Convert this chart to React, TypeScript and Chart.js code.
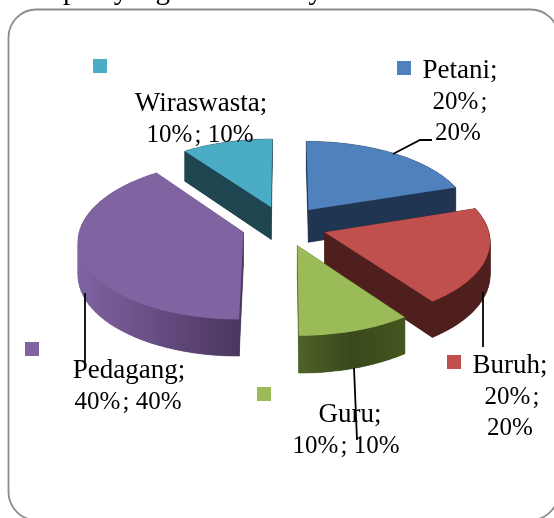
import React, { useEffect, useRef } from "react";
import { Chart, registerables } from "chart.js";

Chart.register(...registerables);

const categories = ["Petani", "Buruh", "Guru", "Pedagang", "Wiraswasta"];
const values = [20, 20, 10, 40, 10];
const topColors = ["#4F81BD", "#C0504D", "#9BBB59", "#8064A2", "#4BACC6"];
const drawOrder = [4, 0, 3, 1, 2];

const wallStops: [number, number, string][][] = [
  [[300, 0, "#1F3552"], [460, 1, "#1F3552"]],
  [[320, 0, "#4F1F1E"], [490, 1, "#4F1F1E"]],
  [[298, 0, "#4F6329"], [350, 0, "#38481C"], [405, 0, "#45561F"]],
  [[80, 0, "#7F62A1"], [243, 0, "#4A355E"]],
  [[185, 0, "#1F4650"], [272, 0, "#1F4650"]],
];

const CX = 284, CY = 226, BX = 163, AY = 77.8, TILT = 0.093, EXPLODE = 0.26, DEPTH = 33;

const FONT = '27px "Liberation Serif"';
const NUM_FONT = '25px "Liberation Serif"';
const LINE_CLIP = 31;

// per-slice label layout: anchor x, first baseline y, wrapped, alignment, marker, leader
const labelLayout = [
  { x: 456, y: 78, wrap: true, marker: [397, 61], leader: [[393, 154], [420, 140], [432, 140]], firstX: 460 },
  { x: 508, y: 373, wrap: true, marker: [447, 355], leader: [[483, 292], [483, 347]], firstX: 510 },
  { x: 346, y: 422, wrap: false, marker: [257, 387], leader: [[354, 368], [357, 440]], firstX: 350 },
  { x: 128, y: 378, wrap: false, marker: [25, 342], leader: [[85, 293], [85, 362]], firstX: 129 },
  { x: 200, y: 111, wrap: false, marker: [93, 59], leader: null, firstX: 201 },
];

function project(X: number, Y: number, depth = 0) {
  const p = 1 / (1 - TILT * Y);
  return { x: CX + BX * X * p, y: CY + AY * Y * p + depth * DEPTH * p };
}

function outline(el: any) {
  const a0 = el.startAngle + Math.PI / 2;
  const a1 = el.endAngle + Math.PI / 2;
  const mid = (a0 + a1) / 2;
  const ox = EXPLODE * Math.sin(mid);
  const oy = -EXPLODE * Math.cos(mid);
  const pts: { X: number; Y: number }[] = [{ X: ox, Y: oy }];
  const steps = 48;
  for (let i = 0; i <= steps; i++) {
    const a = a0 + ((a1 - a0) * i) / steps;
    pts.push({ X: ox + Math.sin(a), Y: oy - Math.cos(a) });
  }
  return pts;
}

const pie3d = {
  id: "pie3d",
  beforeDraw(chart: any) {
    const ctx = chart.ctx;
    ctx.save();
    ctx.fillStyle = "#fff";
    ctx.fillRect(0, 0, chart.width, chart.height);
    ctx.strokeStyle = "#8C8C8C";
    ctx.lineWidth = 1.8;
    ctx.beginPath();
    ctx.roundRect(8.5, 9.5, 550, 510.5, 28);
    ctx.stroke();
    ctx.fillStyle = "#000";
    ctx.font = '29px "Liberation Serif"';
    ctx.textAlign = "left";
    ctx.fillText("pun yang merasakan y", 63, -1.3);
    ctx.restore();
  },
  beforeDatasetDraw() {
    return false;
  },
  afterDatasetsDraw(chart: any) {
    const ctx = chart.ctx;
    const arcs = chart.getDatasetMeta(0).data;
    ctx.save();
    drawOrder.forEach((i) => {
      const el = arcs[i];
      const pts = outline(el);
      const grad = ctx.createLinearGradient(wallStops[i][0][0], 0, wallStops[i][wallStops[i].length - 1][0], 0);
      const span = wallStops[i][wallStops[i].length - 1][0] - wallStops[i][0][0];
      wallStops[i].forEach((s) => grad.addColorStop((s[0] - wallStops[i][0][0]) / span, s[2]));
      ctx.fillStyle = grad;
      ctx.strokeStyle = grad;
      ctx.lineWidth = 0.5;
      // bottom face and the extruded side of every outline segment
      ctx.beginPath();
      pts.forEach((p, k) => {
        const q = project(p.X, p.Y, 1);
        k ? ctx.lineTo(q.x, q.y) : ctx.moveTo(q.x, q.y);
      });
      ctx.closePath();
      ctx.fill();
      for (let k = 0; k < pts.length; k++) {
        const a = pts[k], b = pts[(k + 1) % pts.length];
        const a0 = project(a.X, a.Y), b0 = project(b.X, b.Y), b1 = project(b.X, b.Y, 1), a1 = project(a.X, a.Y, 1);
        ctx.beginPath();
        ctx.moveTo(a0.x, a0.y);
        ctx.lineTo(b0.x, b0.y);
        ctx.lineTo(b1.x, b1.y);
        ctx.lineTo(a1.x, a1.y);
        ctx.closePath();
        ctx.fill();
        ctx.stroke();
      }
      ctx.fillStyle = el.options.backgroundColor;
      ctx.beginPath();
      pts.forEach((p, k) => {
        const q = project(p.X, p.Y);
        k ? ctx.lineTo(q.x, q.y) : ctx.moveTo(q.x, q.y);
      });
      ctx.closePath();
      ctx.fill();
    });

    // data labels, then leader lines and legend keys
    ctx.fillStyle = "#000";
    ctx.textAlign = "center";
    ctx.textBaseline = "alphabetic";
    categories.forEach((c, i) => {
      const L = labelLayout[i];
      const v = values[i];
      ctx.font = FONT;
      ctx.fillText(`${c};`, L.firstX, L.y);
      ctx.font = NUM_FONT;
      if (L.wrap) {
        ctx.fillText(`${v}%\u200A;`, L.x + 4, L.y + LINE_CLIP);
        ctx.fillText(`${v}%`, L.x + 2, L.y + LINE_CLIP * 2);
      } else {
        ctx.fillText(`${v}%\u200A; ${v}%`, L.x, L.y + LINE_CLIP);
      }
    });
    ctx.strokeStyle = "#000";
    ctx.lineWidth = 1.8;
    labelLayout.forEach((L, i) => {
      if (L.leader) {
        ctx.beginPath();
        L.leader.forEach((p, k) => (k ? ctx.lineTo(p[0], p[1]) : ctx.moveTo(p[0], p[1])));
        ctx.stroke();
      }
      ctx.fillStyle = topColors[i];
      ctx.fillRect(L.marker[0], L.marker[1], 14, 14);
    });
    ctx.restore();
  },
};

export default function App() {
  const ref = useRef<HTMLCanvasElement>(null);
  useEffect(() => {
    const chart = new Chart(ref.current!, {
      type: "pie",
      data: {
        labels: categories,
        datasets: [{ data: values, backgroundColor: topColors, borderWidth: 0 }],
      },
      options: {
        animation: false,
        responsive: false,
        plugins: { legend: { display: false }, tooltip: { enabled: false } },
      },
      plugins: [pie3d],
    } as any);
    return () => chart.destroy();
  }, []);
  return (
    <canvas
      ref={ref}
      width={554}
      height={518}
      style={{ position: "absolute", left: 0, top: 0, display: "block" }}
    />
  );
}
